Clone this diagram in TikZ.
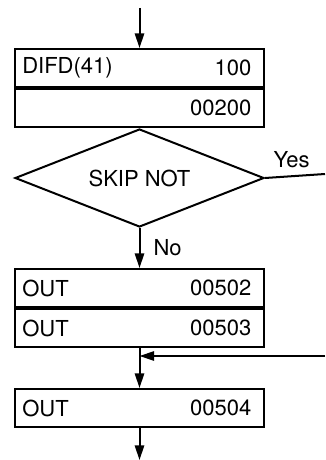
\documentclass[tikz,border=0pt]{standalone}
\usepackage{fontspec}
\usepackage{graphicx}
\setmainfont{TeX Gyre Heros}
\usetikzlibrary{positioning, calc, shapes.geometric, arrows.meta}

\newcommand{\bigtxt}[1]{\scalebox{1.65}{#1}}

\begin{document}
\begin{tikzpicture}[x=0.75pt, y=-0.75pt, >={Triangle[length=11pt,width=7pt]},
    row/.style={draw, line width=1.5pt, rectangle, inner sep=0pt,
        minimum width=186.75pt, minimum height=28.5pt},
    lefttxt/.style={anchor=west, inner sep=0pt, xshift=6pt},
    righttxt/.style={anchor=east, inner sep=0pt, xshift=-10pt},
    test/.style={draw, line width=1.5pt, diamond, inner sep=0pt, aspect=2.54,
        minimum width=186.75pt, minimum height=73.5pt},
    flow/.style={->, line width=1.5pt}]
    \useasboundingbox (0,0) rectangle (325,460);

    % DIFD block
    \coordinate (start) at (139.5,8);
    \node[row] (difd) at (139.5,68) {};
    \node[row, below=0pt of difd] (word) {};
    \node[lefttxt] (difdop) at (difd.west) {\bigtxt{DIFD(41)}};
    \node[righttxt] (difdnum) at (difd.east) {\bigtxt{100}};
    \node[righttxt] (wordnum) at (word.east) {\bigtxt{00200}};

    % Decision
    \node[test, below=0pt of word] (skip) {\bigtxt{SKIP NOT}};
    \node[anchor=south west] (yes) at ([xshift=3pt,yshift=4pt]skip.east) {\bigtxt{Yes}};
    \coordinate (yesend) at (325,174);

    % Outputs skipped
    \node[row, below=30pt of skip] (out2) {};
    \node[row, below=0pt of out2] (out3) {};
    \node[lefttxt] (out2op) at (out2.west) {\bigtxt{OUT}};
    \node[righttxt] (out2num) at (out2.east) {\bigtxt{00502}};
    \node[lefttxt] (out3op) at (out3.west) {\bigtxt{OUT}};
    \node[righttxt] (out3num) at (out3.east) {\bigtxt{00503}};
    \node[anchor=west] (no) at ([xshift=7pt]$(skip.south)!0.5!(out2.north)$) {\bigtxt{No}};

    % Output after jump
    \node[row, below=30pt of out3] (out4) {};
    \node[lefttxt] (out4op) at (out4.west) {\bigtxt{OUT}};
    \node[righttxt] (out4num) at (out4.east) {\bigtxt{00504}};
    \coordinate (join) at ($(out3.south)!0.4!(out4.north)$);
    \coordinate (back) at (325,356);
    \coordinate (finish) at (139.5,460);

    % Connectors
    \draw[flow] (start) -- (difd.north);
    \draw[line width=1.5pt] (skip.east) -- (yesend);
    \draw[flow] (skip.south) -- (out2.north);
    \draw[flow] (out3.south) -- (out4.north);
    \draw[flow] (back) -- (back -| join);
    \draw[flow] (out4.south) -- (finish);
\end{tikzpicture}
\end{document}
